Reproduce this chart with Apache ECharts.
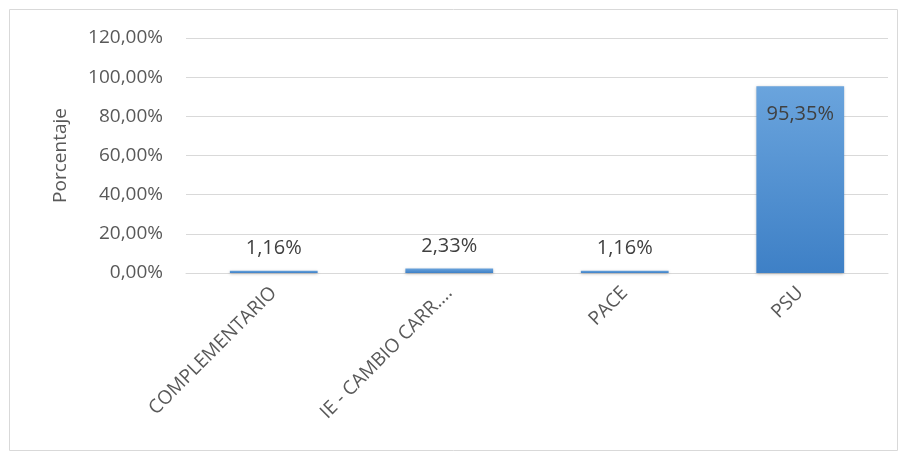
<!DOCTYPE html>
<html><head><meta charset="utf-8">
<script src="https://cdn.jsdelivr.net/npm/echarts@6/dist/echarts.min.js"></script>
<style>html,body{margin:0;padding:0;background:#fff}#c{width:902px;height:458px}</style>
</head><body><div id="c"></div>
<script>
const categories = ['COMPLEMENTARIO', 'IE - CAMBIO CARR....', 'PACE', 'PSU'];
const values = [1.16, 2.33, 1.16, 95.35];
const labelPositions = ['top', 'top', 'top', 'insideTop'];
const yTicks = [0, 20, 40, 60, 80, 100, 120];

const fmt = v => v.toFixed(2).replace('.', ',') + '%';
const font = 'Open Sans, Liberation Sans, sans-serif';
const chart = echarts.init(document.getElementById('c'));
chart.setOption({
  animation: false,
  graphic: [{type: 'rect', shape: {x: 9.5, y: 9.5, width: 888, height: 441},
    style: {fill: 'none', stroke: '#d9d9d9', lineWidth: 1}, silent: true}],
  grid: {left: 186, right: 14, top: 38, bottom: 185, containLabel: false},
  xAxis: {
    type: 'category', data: categories,
    axisLine: {lineStyle: {color: '#d9d9d9'}},
    axisTick: {show: false},
    axisLabel: {rotate: 45, color: '#595959', fontSize: 19, fontFamily: font, margin: 17, interval: 0}
  },
  yAxis: {
    type: 'value', min: yTicks[0], max: yTicks[yTicks.length - 1], interval: 20,
    name: 'Porcentaje', nameLocation: 'middle', nameGap: 116,
    nameTextStyle: {color: '#595959', fontSize: 19, fontFamily: font},
    axisLine: {show: false}, axisTick: {show: false},
    splitLine: {lineStyle: {color: '#d9d9d9'}},
    axisLabel: {color: '#595959', fontSize: 19, fontFamily: font, margin: 23, formatter: fmt}
  },
  series: [{
    type: 'bar', barWidth: '50%',
    data: values.map((v, i) => ({value: v, label: {position: labelPositions[i], distance: labelPositions[i] === 'top' ? 12 : 18}})),
    itemStyle: {
      color: new echarts.graphic.LinearGradient(0, 0, 0, 1, [
        {offset: 0, color: '#6aa4dd'}, {offset: 1, color: '#3e80c6'}]),
      shadowColor: 'rgba(0,0,0,0.25)', shadowBlur: 3, shadowOffsetY: 1
    },
    label: {show: true, color: '#404040', fontSize: 20, fontFamily: font,
      formatter: p => fmt(p.value)}
  }]
});
</script></body></html>
